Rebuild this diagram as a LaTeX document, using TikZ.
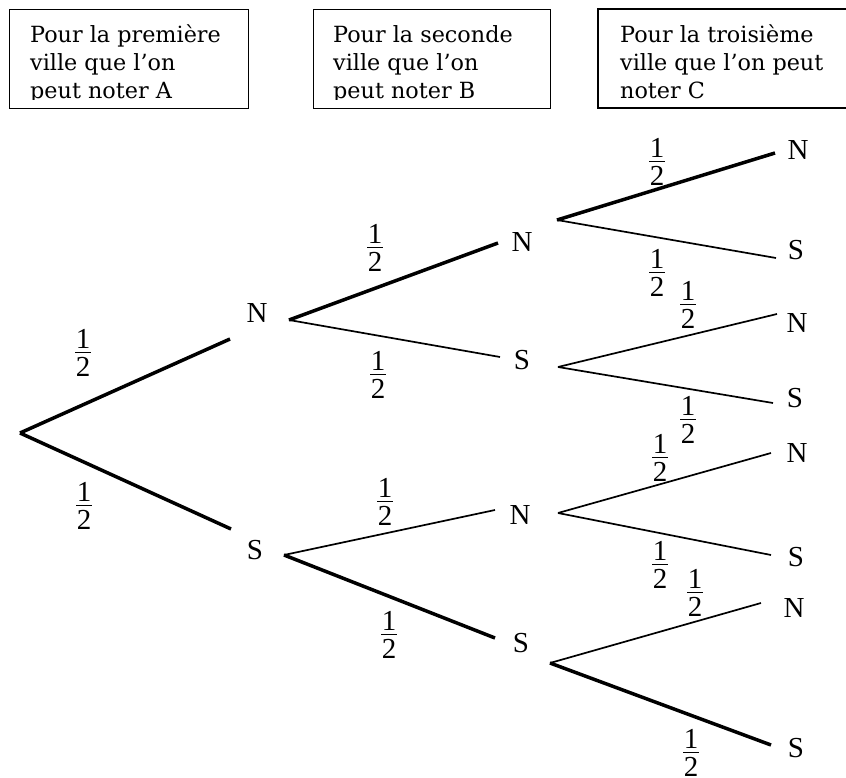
\documentclass[tikz,border=0pt]{standalone}
\usepackage{fontspec}
\setmainfont{Liberation Serif}
\newfontfamily\boxfont{DejaVu Serif}
\newcommand\half{\vbox{\hbox to 16pt{\hss 1\hss}\kern3.4pt\hrule height 1.2pt\kern4pt\hbox to 16pt{\hss 2\hss}}}
\begin{document}
\begin{tikzpicture}[x=1pt,y=-1pt,
  lab/.style={inner sep=0pt,font=\fontsize{29}{35}\selectfont},
  fr/.style={inner sep=0pt,font=\fontsize{29}{35}\selectfont},
  boxtext/.style={inner sep=0pt,anchor=base west,font=\boxfont\fontsize{22.3}{28}\selectfont},
  frame/.style={draw,line width=1.2pt,inner sep=0pt,anchor=north west},
  thickbr/.style={line width=3.5pt},
  thinbr/.style={line width=1.7pt}]
\useasboundingbox (0,0) rectangle (846,778);
% header boxes
\node[frame,minimum width=239pt,minimum height=99pt] (box1) at (9,9) {};
\node[frame,minimum width=237pt,minimum height=99pt] (box2) at (313,9) {};
\draw[line width=1.2pt] (846,9) -| (598,108) -- (846,108);
\begin{scope}
\clip (0,0) rectangle (846,100);
\node[boxtext] (t11) at (30,43) {Pour la première};
\node[boxtext] (t12) at (30,71) {ville que l’on};
\node[boxtext] (t13) at (30,99) {peut noter A};
\node[boxtext] (t21) at (333,43) {Pour la seconde};
\node[boxtext] (t22) at (333,71) {ville que l’on};
\node[boxtext] (t23) at (333,99) {peut noter B};
\node[boxtext] (t31) at (620,43) {Pour la troisième};
\node[boxtext] (t32) at (620,71) {ville que l’on peut};
\node[boxtext] (t33) at (620,99) {noter C};
\end{scope}
% tree points
\coordinate (r) at (20,433);
\coordinate (aN) at (230,339);
\coordinate (aS) at (231,529);
\coordinate (aNo) at (289,320);
\coordinate (aSo) at (284,555);
\coordinate (bNN) at (498,243);
\coordinate (bNS) at (500,357);
\coordinate (bSN) at (495,510);
\coordinate (bSS) at (495,638);
\coordinate (bNNo) at (557,220);
\coordinate (bNSo) at (558,367);
\coordinate (bSNo) at (558,513);
\coordinate (bSSo) at (550,663);
\coordinate (cNNN) at (775,153);
\coordinate (cNNS) at (776,258);
\coordinate (cNSN) at (777,314);
\coordinate (cNSS) at (773,403);
\coordinate (cSNN) at (771,453);
\coordinate (cSNS) at (771,555);
\coordinate (cSSN) at (761,603);
\coordinate (cSSS) at (771,745);
% labels
\node[lab] (laN) at (257,313) {N};
\node[lab] (laS) at (255,550) {S};
\node[lab] (lbNN) at (522,242) {N};
\node[lab] (lbNS) at (522,360) {S};
\node[lab] (lbSN) at (520,515) {N};
\node[lab] (lbSS) at (521,643) {S};
\node[lab] (lcNNN) at (798,150) {N};
\node[lab] (lcNNS) at (796,250) {S};
\node[lab] (lcNSN) at (797,323) {N};
\node[lab] (lcNSS) at (795,398) {S};
\node[lab] (lcSNN) at (797,453) {N};
\node[lab] (lcSNS) at (796,557) {S};
\node[lab] (lcSSN) at (794,608) {N};
\node[lab] (lcSSS) at (796,748) {S};
% branches
\draw[thickbr] (r) -- (aN);
\draw[thickbr] (r) -- (aS);
\draw[thickbr] (aNo) -- (bNN);
\draw[thinbr] (aNo) -- (bNS);
\draw[thinbr] (aSo) -- (bSN);
\draw[thickbr] (aSo) -- (bSS);
\draw[thickbr] (bNNo) -- (cNNN);
\draw[thinbr] (bNNo) -- (cNNS);
\draw[thinbr] (bNSo) -- (cNSN);
\draw[thinbr] (bNSo) -- (cNSS);
\draw[thinbr] (bSNo) -- (cSNN);
\draw[thinbr] (bSNo) -- (cSNS);
\draw[thinbr] (bSSo) -- (cSSN);
\draw[thickbr] (bSSo) -- (cSSS);
% probabilities
\node[fr] (p1) at (83,353) {\half};
\node[fr] (p2) at (84,506) {\half};
\node[fr] (p3) at (375,248) {\half};
\node[fr] (p4) at (378,375) {\half};
\node[fr] (p5) at (385,502) {\half};
\node[fr] (p6) at (389,635) {\half};
\node[fr] (p7) at (657,162) {\half};
\node[fr] (p8) at (657,273) {\half};
\node[fr] (p9) at (688,305) {\half};
\node[fr] (p10) at (688,420) {\half};
\node[fr] (p11) at (660,458) {\half};
\node[fr] (p12) at (660,565) {\half};
\node[fr] (p13) at (695,593) {\half};
\node[fr] (p14) at (691,753) {\half};
\end{tikzpicture}
\end{document}
